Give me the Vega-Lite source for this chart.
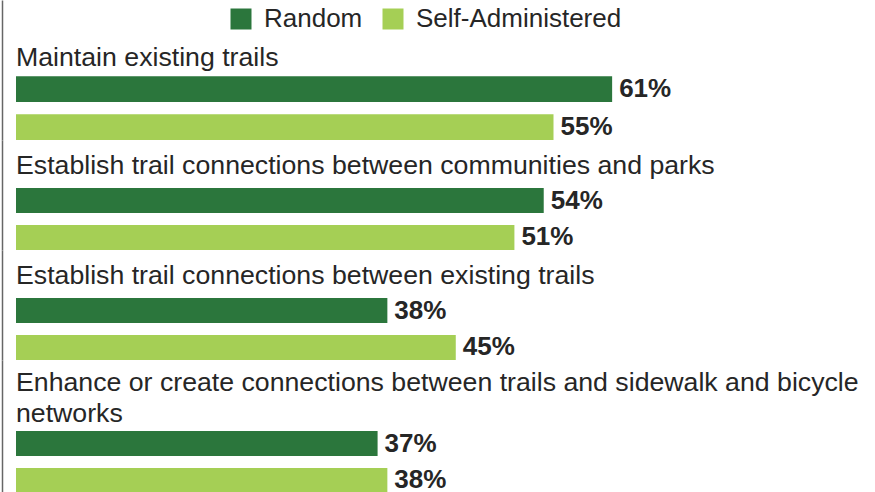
{
  "$schema": "https://vega.github.io/schema/vega-lite/v6.json",
  "autosize": {"type": "pad"},
  "padding": {"left": 2, "top": 0, "right": 0, "bottom": 0},
  "background": "white",
  "config": {"view": {"stroke": null}, "font": "Liberation Sans", "concat": {"spacing": 0}},
  "spacing": 0,
  "bounds": "flush",
  "data": {"values": [
    {"cat": "Maintain existing trails", "series": "Random", "value": 0.61},
    {"cat": "Maintain existing trails", "series": "Self-Administered", "value": 0.55},
    {"cat": "Establish trail connections between communities and parks", "series": "Random", "value": 0.54},
    {"cat": "Establish trail connections between communities and parks", "series": "Self-Administered", "value": 0.51},
    {"cat": "Establish trail connections between existing trails", "series": "Random", "value": 0.38},
    {"cat": "Establish trail connections between existing trails", "series": "Self-Administered", "value": 0.45},
    {"cat": "Enhance or create connections between trails and sidewalk and bicycle networks", "series": "Random", "value": 0.37},
    {"cat": "Enhance or create connections between trails and sidewalk and bicycle networks", "series": "Self-Administered", "value": 0.38}
  ]},
  "resolve": {"scale": {"color": "shared"}, "legend": {"color": "shared"}},
  "vconcat": [
    {
      "width": 860, "height": 140,
      "transform": [{"filter": {"field": "cat", "equal": "Maintain existing trails"}}],
      "encoding": {
        "y": {"field": "series", "type": "nominal", "scale": {"domain": ["Random", "Self-Administered"], "paddingInner": 0.32432, "paddingOuter": 1.05405, "align": 1, "round": false},
              "axis": {"title": null, "labels": false, "ticks": false, "grid": false, "domain": true, "domainColor": "#666666", "domainWidth": 1.5, "offset": 14, "minExtent": 0}},
        "x": {"field": "value", "type": "quantitative", "scale": {"domain": [0, 0.88]}, "axis": null}
      },
      "layer": [
        {"mark": {"type": "bar"},
         "encoding": {"color": {"field": "series", "type": "nominal",
           "scale": {"domain": ["Random", "Self-Administered"], "range": ["#2b763c", "#a5cf55"]},
           "legend": {"orient": "none", "legendX": 212, "legendY": 6, "direction": "horizontal", "title": null, "symbolType": "square", "symbolSize": 441, "symbolStrokeWidth": 0, "labelFontSize": 26, "labelColor": "#262626", "labelFont": "Liberation Sans", "labelLimit": 400, "columnPadding": 17, "labelOffset": 10, "padding": 0}}}},
        {"mark": {"type": "text", "align": "left", "baseline": "middle", "dx": 7, "fontSize": 26, "fontWeight": "bold", "color": "#262626"},
         "encoding": {"text": {"field": "value", "type": "quantitative", "format": ".0%"}}},
        {"transform": [{"filter": {"field": "series", "equal": "Random"}}],
         "mark": {"type": "text", "align": "left", "baseline": "alphabetic", "dy": -23, "fontSize": 26.7, "color": "#262626"},
         "encoding": {"x": {"datum": 0}, "text": {"field": "cat", "type": "nominal"}}}
      ]
    },
    {
      "width": 860, "height": 110,
      "transform": [{"filter": {"field": "cat", "equal": "Establish trail connections between communities and parks"}}],
      "encoding": {
        "y": {"field": "series", "type": "nominal", "scale": {"domain": ["Random", "Self-Administered"], "paddingInner": 0.32432, "paddingOuter": 0.64865, "align": 1, "round": false},
              "axis": {"title": null, "labels": false, "ticks": false, "grid": false, "domain": true, "domainColor": "#666666", "domainWidth": 1.5, "offset": 14, "minExtent": 0}},
        "x": {"field": "value", "type": "quantitative", "scale": {"domain": [0, 0.88]}, "axis": null}
      },
      "layer": [
        {"mark": {"type": "bar"},
         "encoding": {"color": {"field": "series", "type": "nominal", "scale": {"domain": ["Random", "Self-Administered"], "range": ["#2b763c", "#a5cf55"]}}}},
        {"mark": {"type": "text", "align": "left", "baseline": "middle", "dx": 7, "fontSize": 26, "fontWeight": "bold", "color": "#262626"},
         "encoding": {"text": {"field": "value", "type": "quantitative", "format": ".0%"}}},
        {"transform": [{"filter": {"field": "series", "equal": "Random"}}],
         "mark": {"type": "text", "align": "left", "baseline": "alphabetic", "dy": -27, "fontSize": 26.7, "color": "#262626"},
         "encoding": {"x": {"datum": 0}, "text": {"field": "cat", "type": "nominal"}}}
      ]
    },
    {
      "width": 860, "height": 110,
      "transform": [{"filter": {"field": "cat", "equal": "Establish trail connections between existing trails"}}],
      "encoding": {
        "y": {"field": "series", "type": "nominal", "scale": {"domain": ["Random", "Self-Administered"], "paddingInner": 0.32432, "paddingOuter": 0.64865, "align": 1, "round": false},
              "axis": {"title": null, "labels": false, "ticks": false, "grid": false, "domain": true, "domainColor": "#666666", "domainWidth": 1.5, "offset": 14, "minExtent": 0}},
        "x": {"field": "value", "type": "quantitative", "scale": {"domain": [0, 0.88]}, "axis": null}
      },
      "layer": [
        {"mark": {"type": "bar"},
         "encoding": {"color": {"field": "series", "type": "nominal", "scale": {"domain": ["Random", "Self-Administered"], "range": ["#2b763c", "#a5cf55"]}}}},
        {"mark": {"type": "text", "align": "left", "baseline": "middle", "dx": 7, "fontSize": 26, "fontWeight": "bold", "color": "#262626"},
         "encoding": {"text": {"field": "value", "type": "quantitative", "format": ".0%"}}},
        {"transform": [{"filter": {"field": "series", "equal": "Random"}}],
         "mark": {"type": "text", "align": "left", "baseline": "alphabetic", "dy": -27, "fontSize": 26.7, "color": "#262626"},
         "encoding": {"x": {"datum": 0}, "text": {"field": "cat", "type": "nominal"}}}
      ]
    },
    {
      "width": 860, "height": 133,
      "transform": [{"filter": {"field": "cat", "equal": "Enhance or create connections between trails and sidewalk and bicycle networks"}}],
      "encoding": {
        "y": {"field": "series", "type": "nominal", "scale": {"domain": ["Random", "Self-Administered"], "paddingInner": 0.32432, "paddingOuter": 0.95946, "align": 1, "round": false},
              "axis": {"title": null, "labels": false, "ticks": false, "grid": false, "domain": true, "domainColor": "#666666", "domainWidth": 1.5, "offset": 14, "minExtent": 0}},
        "x": {"field": "value", "type": "quantitative", "scale": {"domain": [0, 0.88]}, "axis": null}
      },
      "layer": [
        {"mark": {"type": "bar"},
         "encoding": {"color": {"field": "series", "type": "nominal", "scale": {"domain": ["Random", "Self-Administered"], "range": ["#2b763c", "#a5cf55"]}}}},
        {"mark": {"type": "text", "align": "left", "baseline": "middle", "dx": 7, "fontSize": 26, "fontWeight": "bold", "color": "#262626"},
         "encoding": {"text": {"field": "value", "type": "quantitative", "format": ".0%"}}},
        {"transform": [{"filter": {"field": "series", "equal": "Random"}}],
         "mark": {"type": "text", "align": "left", "baseline": "alphabetic", "dy": -52.5, "fontSize": 26.7, "lineHeight": 31, "color": "#262626",
                  "text": ["Enhance or create connections between trails and sidewalk and bicycle", "networks"]},
         "encoding": {"x": {"datum": 0}}}
      ]
    }
  ]
}
